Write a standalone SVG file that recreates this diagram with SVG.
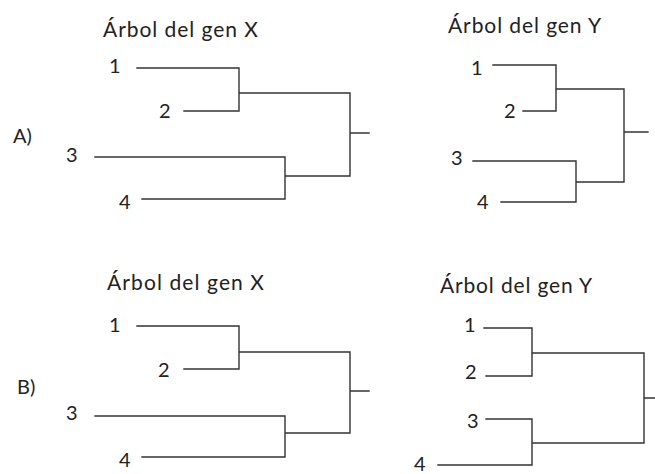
<svg xmlns="http://www.w3.org/2000/svg" width="655" height="474" viewBox="0 0 655 474">
<style>
text{font-family:Lato,"Open Sans","Liberation Sans",sans-serif;font-size:20px;fill:#222}
.t{font-size:21px}
.e{fill:none;stroke:#333;stroke-width:1.4;stroke-linecap:square}
</style>
<rect width="655" height="474" fill="#fff"/>
<g id="labels">
<text x="13" y="143">A)</text>
<text x="17" y="394">B)</text>
</g>
<g id="treeAX">
<text class="t" x="103" y="37" textLength="155">Árbol del gen X</text>
<text x="109" y="73">1</text>
<text x="159" y="118">2</text>
<text x="66" y="162">3</text>
<text x="119" y="209">4</text>
</g>
<g id="treeAY">
<text class="t" x="448" y="33" textLength="153">Árbol del gen Y</text>
<text x="471" y="75">1</text>
<text x="504" y="118">2</text>
<text x="451" y="165">3</text>
<text x="477" y="209">4</text>
</g>
<g id="treeBX">
<text class="t" x="107" y="290" textLength="157">Árbol del gen X</text>
<text x="109" y="332">1</text>
<text x="158" y="377">2</text>
<text x="66" y="420">3</text>
<text x="119" y="467">4</text>
</g>
<g id="treeBY">
<text class="t" x="440" y="293" textLength="152">Árbol del gen Y</text>
<text x="464" y="332">1</text>
<text x="465" y="379">2</text>
<text x="467" y="428">3</text>
<text x="414" y="471">4</text>
</g>
<g id="connectors">
<path class="e" d="M137 68H239V111H184M239 93H350V176H285M95 157H285V199H142M350 133H369"/>
<path class="e" d="M493 65H556V111H523M556 89H624V182H576M473 161H576V202H501M624 132H648"/>
<path class="e" d="M137 326H239V369H184M239 352H350V433H285M95 416H285V457H142M350 391H369"/>
<path class="e" d="M484 328H532V376H486M532 353H644V443H532M486 419H532V465H438M644 398H655"/>
</g>
</svg>
